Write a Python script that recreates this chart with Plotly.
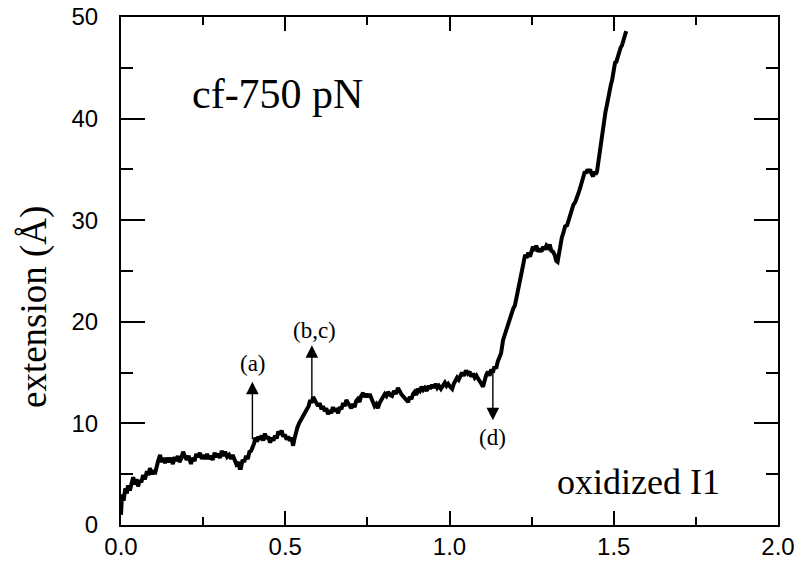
import plotly.graph_objects as go

# Trace (x: pulling coordinate, y: extension in Å)
x_vals = [
    0.000, 0.003, 0.008, 0.013, 0.018, 0.021, 0.027, 0.032, 0.037, 0.042,
    0.047, 0.052, 0.057, 0.062, 0.067, 0.073, 0.079, 0.084, 0.088, 0.094,
    0.099, 0.103, 0.108, 0.113, 0.119, 0.124, 0.129, 0.134, 0.140, 0.146,
    0.152, 0.158, 0.163, 0.168, 0.173, 0.178, 0.184, 0.189, 0.194, 0.200,
    0.206, 0.213, 0.218, 0.224, 0.229, 0.234, 0.240, 0.246, 0.251, 0.256,
    0.262, 0.268, 0.274, 0.279, 0.285, 0.290, 0.295, 0.301, 0.307, 0.312,
    0.317, 0.323, 0.329, 0.335, 0.340, 0.346, 0.351, 0.356, 0.361, 0.365,
    0.370, 0.375, 0.381, 0.386, 0.391, 0.396, 0.401, 0.405, 0.409, 0.414,
    0.418, 0.423, 0.428, 0.433, 0.438, 0.443, 0.448, 0.454, 0.459, 0.464,
    0.469, 0.474, 0.479, 0.484, 0.489, 0.494, 0.499, 0.504, 0.509, 0.514,
    0.519, 0.524, 0.528, 0.532, 0.537, 0.542, 0.547, 0.551, 0.556, 0.561,
    0.566, 0.571, 0.576, 0.580, 0.585, 0.590, 0.595, 0.600, 0.605, 0.610,
    0.615, 0.620, 0.625, 0.630, 0.635, 0.640, 0.645, 0.650, 0.655, 0.661,
    0.666, 0.671, 0.676, 0.681, 0.686, 0.691, 0.696, 0.701, 0.706, 0.711,
    0.716, 0.721, 0.726, 0.731, 0.737, 0.742, 0.747, 0.752, 0.757, 0.762,
    0.767, 0.772, 0.777, 0.782, 0.787, 0.793, 0.798, 0.803, 0.808, 0.813,
    0.819, 0.825, 0.831, 0.837, 0.843, 0.848, 0.853, 0.858, 0.863, 0.868,
    0.874, 0.879, 0.884, 0.889, 0.894, 0.899, 0.904, 0.910, 0.915, 0.920,
    0.925, 0.931, 0.936, 0.941, 0.947, 0.952, 0.958, 0.963, 0.968, 0.974,
    0.980, 0.986, 0.991, 0.996, 1.002, 1.008, 1.013, 1.018, 1.023, 1.028,
    1.033, 1.038, 1.044, 1.050, 1.056, 1.061, 1.066, 1.072, 1.077, 1.082,
    1.087, 1.092, 1.097, 1.102, 1.107, 1.112, 1.117, 1.122, 1.127, 1.132,
    1.137, 1.142, 1.147, 1.152, 1.157, 1.163, 1.169, 1.175, 1.180, 1.184,
    1.189, 1.194, 1.199, 1.204, 1.209, 1.215, 1.221, 1.226, 1.230, 1.235,
    1.240, 1.245, 1.250, 1.254, 1.259, 1.264, 1.270, 1.275, 1.280, 1.285,
    1.290, 1.295, 1.300, 1.305, 1.310, 1.315, 1.320, 1.325, 1.329, 1.333,
    1.338, 1.342, 1.347, 1.352, 1.358, 1.363, 1.367, 1.372, 1.377, 1.383,
    1.388, 1.393, 1.398, 1.403, 1.408, 1.412, 1.416, 1.420, 1.424, 1.428,
    1.432, 1.437, 1.441, 1.445, 1.449, 1.454, 1.458, 1.463, 1.467, 1.471,
    1.475, 1.479, 1.483, 1.487, 1.491, 1.495, 1.500, 1.504, 1.508, 1.513,
    1.517, 1.521, 1.525, 1.529, 1.534, 1.538,
]
y_vals = [
    1.0, 3.0, 2.4, 3.6, 3.1, 3.9, 3.4, 4.3, 4.7, 4.0,
    4.5, 3.8, 4.4, 4.2, 4.9, 4.5, 5.3, 4.9, 5.6, 5.0,
    5.4, 5.0, 5.8, 6.3, 6.9, 6.2, 6.6, 6.1, 6.6, 6.2,
    6.6, 6.0, 6.7, 6.3, 6.8, 6.2, 6.6, 7.2, 6.8, 6.4,
    6.8, 6.0, 6.6, 6.3, 7.0, 6.7, 7.1, 6.5, 6.9, 6.5,
    7.0, 6.5, 6.8, 6.4, 7.1, 6.7, 7.0, 6.6, 7.3, 6.8,
    7.2, 6.7, 6.9, 6.5, 6.9, 6.3, 6.0, 6.2, 5.6, 5.6,
    6.4, 6.2, 6.8, 6.5, 7.2, 7.3, 7.6, 8.0, 8.6, 8.2,
    8.7, 8.4, 8.8, 8.3, 9.0, 8.5, 8.7, 8.1, 8.6, 8.3,
    8.8, 8.5, 9.2, 8.9, 9.3, 8.7, 8.9, 8.4, 8.7, 8.3,
    8.6, 7.8, 8.5, 9.2, 9.6, 10.0, 10.3, 10.7, 10.9, 11.3,
    11.6, 11.7, 12.3, 12.0, 12.6, 12.2, 12.0, 11.7, 12.0, 11.4,
    11.7, 11.2, 11.5, 10.9, 11.3, 11.0, 11.6, 11.2, 11.5, 11.0,
    11.6, 11.4, 12.0, 11.7, 12.3, 12.0, 11.8, 11.5, 11.9, 11.6,
    12.2, 12.4, 12.1, 12.7, 13.0, 12.6, 12.9, 12.6, 12.9, 12.4,
    12.0, 11.7, 11.9, 11.5, 12.0, 12.4, 12.6, 12.9, 12.7, 13.1,
    12.8, 12.7, 13.2, 12.9, 13.5, 13.1, 12.9, 12.7, 12.5, 12.3,
    12.1, 12.6, 12.4, 12.9, 13.1, 12.8, 13.4, 13.2, 13.6, 13.3,
    13.5, 13.2, 13.7, 13.4, 13.8, 13.5, 13.9, 13.5, 13.7, 13.4,
    13.8, 14.0, 13.7, 13.9, 13.6, 13.4, 13.9, 14.2, 14.5, 14.3,
    14.8, 15.0, 14.7, 15.2, 14.9, 15.1, 14.6, 14.9, 14.5, 14.7,
    14.4, 14.2, 13.9, 13.6, 14.3, 14.8, 15.1, 14.7, 15.3, 15.0,
    15.6, 15.4, 16.1, 16.5, 16.9, 18.2, 18.8, 19.5, 20.2, 20.5,
    20.9, 21.3, 21.6, 22.5, 23.4, 24.2, 25.1, 25.9, 26.6, 26.3,
    26.8, 26.4, 27.1, 27.4, 27.0, 27.5, 26.9, 27.2, 26.9, 27.4,
    27.1, 27.5, 27.3, 27.6, 27.0, 26.9, 26.6, 26.0, 25.9, 26.8,
    27.7, 28.3, 28.8, 29.4, 29.5, 30.1, 30.3, 30.9, 31.5, 31.8,
    32.4, 32.7, 33.2, 33.7, 34.3, 34.8, 34.6, 35.0, 34.7, 35.0,
    34.6, 34.3, 34.8, 34.5, 34.8, 36.0, 37.2, 38.3, 39.2, 40.0,
    40.7, 41.3, 42.1, 42.7, 43.3, 43.8, 44.8, 45.5, 45.6, 46.3,
    46.5, 47.0, 47.2, 47.8, 48.2, 48.6,
]

# Event markers: label, x position, arrow tail y, arrow tip y, label position
event_labels = ["(a)", "(b,c)", "(d)"]
event_x = [0.400, 0.581, 1.132]
event_tail_y = [8.3, 12.3, 15.2]
event_tip_y = [14.1, 17.7, 10.3]
event_label_x = [0.402, 0.588, 1.132]
event_label_y = [15.9, 19.1, 8.6]

x_ticks = [0.0, 0.5, 1.0, 1.5, 2.0]
y_ticks = [0, 10, 20, 30, 40, 50]

fig = go.Figure()
fig.add_trace(go.Scatter(
    x=x_vals, y=y_vals, mode="lines",
    line=dict(color="black", width=4),
    showlegend=False, hoverinfo="skip",
))

serif = "Liberation Serif, Times New Roman, serif"
sans = "Liberation Sans, Arial, sans-serif"

plot_w = 795 - 121 - 17
plot_h = 561 - 17 - 36

annotations = []
for lab, ex, ty, hy, lx, ly in zip(event_labels, event_x, event_tail_y,
                                   event_tip_y, event_label_x, event_label_y):
    annotations.append(dict(
        x=ex, y=hy, ax=ex, ay=ty, xref="x", yref="y", axref="x", ayref="y",
        text="", showarrow=True, arrowhead=2, arrowsize=1.8, arrowwidth=1.4,
        arrowcolor="black", standoff=0, startstandoff=0,
    ))
    annotations.append(dict(
        x=lx, y=ly, xref="x", yref="y", text=lab, showarrow=False,
        font=dict(family=serif, size=23, color="black"),
        xanchor="center", yanchor="middle",
    ))

annotations.append(dict(
    x=0.21, y=42.4, xref="x", yref="y", text="cf-750 pN", showarrow=False,
    font=dict(family=serif, size=42, color="black"),
    xanchor="left", yanchor="middle",
))
annotations.append(dict(
    x=1.321, y=4.2, xref="x", yref="y", text="oxidized I1", showarrow=False,
    font=dict(family=serif, size=36, color="black"),
    xanchor="left", yanchor="middle",
))
annotations.append(dict(
    x=(34 - 121) / plot_w, y=(525 - 307) / plot_h, xref="paper", yref="paper",
    text="extension (Å)", showarrow=False, textangle=-90,
    font=dict(family=serif, size=37, color="black"),
    xanchor="center", yanchor="middle",
))

fig.update_layout(
    width=795, height=561,
    margin=dict(l=121, r=17, t=17, b=36, autoexpand=False),
    plot_bgcolor="white", paper_bgcolor="white",
    font=dict(family=sans, size=24, color="black"),
    annotations=annotations,
)

fig.update_xaxes(
    range=[0, 2], tickvals=x_ticks, ticktext=[f"{v:.1f}" for v in x_ticks],
    ticks="inside", ticklen=14, tickwidth=2, tickcolor="black",
    showline=True, linewidth=2, linecolor="black", mirror="ticks",
    showgrid=False, zeroline=False, ticklabelstandoff=-1, automargin=False,
    minor=dict(dtick=0.25, tick0=0, ticks="inside", ticklen=8,
               tickwidth=2, tickcolor="black", showgrid=False),
    tickfont=dict(family=sans, size=24, color="black"),
)
fig.update_yaxes(
    range=[0, 50], tickvals=y_ticks,
    ticks="inside", ticklen=24, tickwidth=2, tickcolor="black",
    showline=True, linewidth=2, linecolor="black", mirror="ticks",
    showgrid=False, zeroline=False, ticklabelstandoff=16, automargin=False,
    minor=dict(dtick=5, tick0=0, ticks="inside", ticklen=12,
               tickwidth=2, tickcolor="black", showgrid=False),
    tickfont=dict(family=sans, size=24, color="black"),
)

fig.write_html("out.html")
